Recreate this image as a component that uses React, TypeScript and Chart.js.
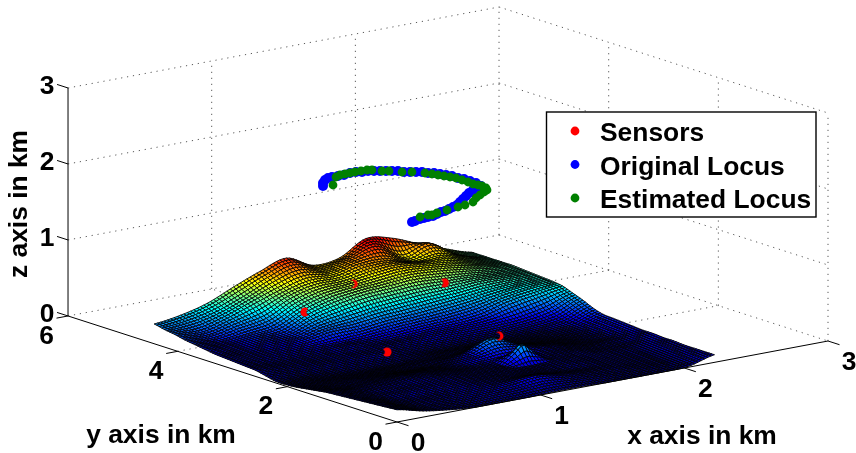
import React, { useEffect, useRef } from "react";
import { Chart, registerables } from "chart.js";

Chart.register(...registerables);

const xTicks = [0, 1, 2, 3];
const yTicks = [0, 2, 4, 6];
const zTicks = [0, 1, 2, 3];
const axisTitles = ["x axis in km", "y axis in km", "z axis in km"];
const seriesLabels = ["Sensors", "Original Locus", "Estimated Locus"];

// Terrain heights (km) on a coarse grid: rows run along y (front to back),
// columns along x. The painter refines each cell visually to give the fine mesh look of the original.
const surfaceXMax = 2.21;
const surfaceYMax = 4.43;
const surfaceZ = [
  [0.16, 0.08, 0.03, 0.0, 0.0, 0.0, 0.01, 0.01, 0.0, 0.0, 0.0, 0.01, 0.1],
  [0.15, 0.08, 0.05, 0.03, 0.04, 0.05, 0.07, 0.05, 0.03, 0.02, 0.02, 0.03, 0.1],
  [0.14, 0.08, 0.07, 0.06, 0.07, 0.09, 0.13, 0.08, 0.05, 0.04, 0.03, 0.04, 0.1],
  [0.13, 0.08, 0.08, 0.08, 0.09, 0.09, 0.09, 0.07, 0.05, 0.05, 0.04, 0.05, 0.1],
  [0.12, 0.08, 0.1, 0.1, 0.1, 0.09, 0.08, 0.07, 0.07, 0.06, 0.05, 0.06, 0.11],
  [0.11, 0.08, 0.1, 0.11, 0.11, 0.09, 0.08, 0.07, 0.08, 0.07, 0.06, 0.07, 0.11],
  [0.1, 0.08, 0.1, 0.12, 0.11, 0.09, 0.08, 0.07, 0.08, 0.08, 0.06, 0.07, 0.12],
  [0.09, 0.07, 0.09, 0.11, 0.1, 0.08, 0.09, 0.09, 0.09, 0.08, 0.06, 0.07, 0.12],
  [0.07, 0.05, 0.07, 0.08, 0.07, 0.07, 0.12, 0.18, 0.12, 0.08, 0.05, 0.06, 0.13],
  [0.05, 0.04, 0.05, 0.05, 0.04, 0.05, 0.12, 0.26, 0.12, 0.06, 0.04, 0.06, 0.14],
  [0.03, 0.03, 0.03, 0.03, 0.03, 0.04, 0.06, 0.1, 0.06, 0.04, 0.03, 0.06, 0.15],
  [0.02, 0.02, 0.02, 0.02, 0.02, 0.03, 0.04, 0.05, 0.04, 0.03, 0.03, 0.06, 0.16],
  [0.02, 0.02, 0.03, 0.04, 0.04, 0.04, 0.03, 0.03, 0.03, 0.03, 0.04, 0.08, 0.2],
  [0.05, 0.04, 0.05, 0.06, 0.07, 0.06, 0.05, 0.05, 0.05, 0.05, 0.07, 0.12, 0.26],
  [0.08, 0.06, 0.06, 0.07, 0.08, 0.08, 0.08, 0.09, 0.09, 0.1, 0.13, 0.2, 0.31],
  [0.09, 0.07, 0.07, 0.08, 0.1, 0.09, 0.1, 0.12, 0.13, 0.16, 0.25, 0.31, 0.36],
  [0.1, 0.09, 0.09, 0.1, 0.11, 0.13, 0.16, 0.18, 0.2, 0.24, 0.31, 0.36, 0.38],
  [0.11, 0.1, 0.11, 0.13, 0.19, 0.2, 0.24, 0.26, 0.29, 0.32, 0.36, 0.38, 0.39],
  [0.12, 0.11, 0.13, 0.15, 0.24, 0.29, 0.34, 0.37, 0.39, 0.4, 0.42, 0.41, 0.4],
  [0.14, 0.12, 0.15, 0.17, 0.31, 0.4, 0.46, 0.48, 0.5, 0.48, 0.46, 0.43, 0.41],
  [0.16, 0.13, 0.17, 0.22, 0.38, 0.48, 0.52, 0.55, 0.58, 0.56, 0.52, 0.46, 0.42],
  [0.18, 0.16, 0.23, 0.3, 0.46, 0.55, 0.56, 0.62, 0.64, 0.6, 0.57, 0.48, 0.42],
  [0.21, 0.2, 0.29, 0.41, 0.53, 0.62, 0.6, 0.68, 0.68, 0.58, 0.62, 0.5, 0.42],
  [0.23, 0.26, 0.34, 0.47, 0.62, 0.72, 0.62, 0.7, 0.8, 0.62, 0.71, 0.5, 0.42],
  [0.26, 0.31, 0.4, 0.55, 0.69, 0.8, 0.64, 0.67, 0.86, 0.8, 0.66, 0.53, 0.42],
];

// The sharp narrow peak near x = 1.30, y = 1.13 is finer than that grid: extra heights on a small patch.
const spikeCentre = [1.3, 1.13];
const spikeStep = [0.07, 0.1];
const spikeZ = [
  [0, 0, 0, 0, 0],
  [0, 0.07, 0.12, 0.07, 0],
  [0.01, 0.12, 0.27, 0.12, 0.01],
  [0, 0.08, 0.12, 0.08, 0],
  [0, 0, 0.01, 0, 0],
];

const sensorX = [0.63, 1.07, 0.755, 1.59, 1.31];
const sensorY = [3.33, 3.6, 2.16, 3.3, 1.57];
const sensorZ = [0.45, 0.6, 0.15, 0.5, 0.3];

// Locus, in the chart's plane coordinates.
const originalLocusH = [412, 415, 420, 424, 428, 433, 437, 441, 445, 449, 453, 457, 460, 463, 466, 469, 473, 477, 481, 476, 470, 464, 458, 452, 446, 440, 434, 428, 422, 416, 410, 404, 398, 392, 386, 380, 374, 368, 362, 356, 350, 344, 338, 332, 328, 325, 323, 323];
const originalLocusV = [222, 221, 219, 218, 217, 216, 214, 212, 211, 209, 207, 205, 202, 199, 196, 193, 190, 187, 186, 183, 181, 179, 178, 176, 175, 174, 173, 173, 172, 172, 172, 172, 171, 171, 171, 171, 171, 171, 172, 172, 173, 175, 176, 177, 178, 180, 183, 186];
const estimatedLocusH = [420, 428, 432, 437, 447, 458, 465, 473, 476, 480, 484, 487, 486, 482, 478, 473, 468, 462, 456, 450, 444, 438, 432, 425, 412, 402, 389, 382, 372, 367, 361, 355, 350, 345, 340, 336, 333];
const estimatedLocusV = [217, 215, 215, 213, 210, 207, 205, 202, 198, 195, 192, 190, 188, 186, 185, 184, 182, 180, 178, 177, 176, 175, 174, 173, 172, 172, 171, 171, 170, 170, 171, 172, 173, 174, 175, 177, 185];

const X0 = 397, Y0 = 422;
const px = (x: number, y: number) => X0 + 143.67 * x - 54.83 * y;
const py = (x: number, y: number, z: number) => Y0 - 27 * x - 17.67 * y - 76 * z;
const P = (x: number, y: number, z: number) => ({ x: px(x, y), y: py(x, y, z) });
const GAP = { x: NaN, y: NaN };

function jet(t: number) {
  const v = Math.max(0, Math.min(1, t));
  const c = (k: number) => Math.round(255 * Math.max(0, Math.min(1, 1.5 - Math.abs(4 * v - k))));
  return `rgb(${c(3)},${c(2)},${c(1)})`;
}

function catmull(a: number, b: number, c: number, d: number, t: number) {
  return 0.5 * (2 * b + (c - a) * t + (2 * a - 5 * b + 4 * c - d) * t * t + (3 * b - a - 3 * c + d) * t * t * t);
}

function spikeAt(x: number, y: number) {
  const u = (x - spikeCentre[0]) / spikeStep[0] + 2, v = (y - spikeCentre[1]) / spikeStep[1] + 2;
  if (u < 0 || v < 0 || u >= 4 || v >= 4) return 0;
  const i = Math.floor(u), j = Math.floor(v), tu = u - i, tv = v - j;
  return (
    spikeZ[j][i] * (1 - tu) * (1 - tv) + spikeZ[j][i + 1] * tu * (1 - tv) +
    spikeZ[j + 1][i] * (1 - tu) * tv + spikeZ[j + 1][i + 1] * tu * tv
  );
}

function heightAt(u: number, v: number) {
  const rows = surfaceZ.length, cols = surfaceZ[0].length;
  const i = Math.min(cols - 2, Math.floor(u)), j = Math.min(rows - 2, Math.floor(v));
  const tu = u - i, tv = v - j;
  const at = (r: number, c: number) => surfaceZ[Math.max(0, Math.min(rows - 1, r))][Math.max(0, Math.min(cols - 1, c))];
  const col = [-1, 0, 1, 2].map((dr) => catmull(at(j + dr, i - 1), at(j + dr, i), at(j + dr, i + 1), at(j + dr, i + 2), tu));
  return Math.max(0, catmull(col[0], col[1], col[2], col[3], tv));
}

function crescent(r: number, cutDx: number, cutR: number) {
  const c = document.createElement("canvas");
  c.width = 14; c.height = 14;
  const g = c.getContext("2d")!;
  g.fillStyle = "#ff0000";
  g.beginPath(); g.arc(7, 7, r, 0, Math.PI * 2); g.fill();
  g.globalCompositeOperation = "destination-out";
  g.beginPath(); g.arc(7 + cutDx, 7, cutR, 0, Math.PI * 2); g.fill();
  return c;
}

const FONT = 'bold 26.4px "Liberation Sans", Arial, sans-serif';

const scenePlugin = {
  id: "scene",
  afterDatasetDraw(chart: any, args: any) {
    if (args.index !== 0) return;
    const { ctx, scales } = chart;
    const sx = scales.x, sy = scales.y;
    const SUBU = 8, SUBV = 4;
    const cols = surfaceZ[0].length, rows = surfaceZ.length;
    const nu = (cols - 1) * SUBU, nv = (rows - 1) * SUBV;
    const pts: { x: number; y: number; z: number }[][] = [];
    for (let a = 0; a <= nu; a++) {
      const line = [];
      for (let b = 0; b <= nv; b++) {
        const gx = (a / nu) * surfaceXMax, gy = (b / nv) * surfaceYMax;
        const z = heightAt(a / SUBU, b / SUBV) + spikeAt(gx, gy);
        const p = P(gx, gy, z);
        line.push({ x: sx.getPixelForValue(p.x), y: sy.getPixelForValue(p.y), z });
      }
      pts.push(line);
    }
    ctx.save();
    ctx.strokeStyle = "#000";
    ctx.lineWidth = 0.85;
    for (let a = nu - 1; a >= 0; a--) {
      for (let b = nv - 1; b >= 0; b--) {
        const p1 = pts[a][b], p2 = pts[a + 1][b], p3 = pts[a + 1][b + 1], p4 = pts[a][b + 1];
        ctx.beginPath();
        ctx.moveTo(p1.x, p1.y); ctx.lineTo(p2.x, p2.y); ctx.lineTo(p3.x, p3.y); ctx.lineTo(p4.x, p4.y);
        ctx.closePath();
        ctx.fillStyle = jet((p1.z + p2.z + p3.z + p4.z) / 4 / 0.95);
        ctx.fill();
        ctx.stroke();
      }
    }
    ctx.restore();
  },
  afterDatasetsDraw(chart: any) {
    const { ctx, scales } = chart;
    const sx = scales.x, sy = scales.y;
    const text = (s: string, x: number, y: number, align: CanvasTextAlign = "center", base: CanvasTextBaseline = "middle") => {
      ctx.textAlign = align; ctx.textBaseline = base;
      ctx.fillText(s, sx.getPixelForValue(x), sy.getPixelForValue(y));
    };
    ctx.save();
    ctx.font = FONT;
    ctx.fillStyle = "#000";
    xTicks.forEach((t) => { const p = P(t, 0, 0); text(String(t), p.x + 21, p.y + 21.5); });
    yTicks.forEach((t) => { const p = P(0, t, 0); text(String(t), p.x - 21.5, p.y + 20.5); });
    zTicks.forEach((t) => { const p = P(0, 6, t); text(String(t), p.x - 21, p.y - 1.5); });
    text(axisTitles[0], 702, 444, "center", "alphabetic");
    text(axisTitles[1], 161, 443, "center", "alphabetic");
    ctx.save();
    ctx.translate(sx.getPixelForValue(27), sy.getPixelForValue(204));
    ctx.rotate(-Math.PI / 2);
    ctx.textAlign = "center"; ctx.textBaseline = "alphabetic";
    ctx.fillText(axisTitles[2], 0, 0);
    ctx.restore();

    // legend
    const L = sx.getPixelForValue(546.5), T = sy.getPixelForValue(112), R = sx.getPixelForValue(816), B = sy.getPixelForValue(217);
    ctx.fillStyle = "#fff";
    ctx.fillRect(L, T, R - L, B - T);
    ctx.strokeStyle = "#000";
    ctx.lineWidth = 1.4;
    ctx.strokeRect(L, T, R - L, B - T);
    const colors = ["#ff0000", "#0000ff", "#008000"];
    const baselines = [141, 174.5, 208];
    const markers = [131, 164.5, 198];
    seriesLabels.forEach((s, i) => {
      ctx.fillStyle = colors[i];
      ctx.beginPath();
      ctx.arc(sx.getPixelForValue(575), sy.getPixelForValue(markers[i]), 4.4, 0, Math.PI * 2);
      ctx.fill();
      ctx.fillStyle = "#000";
      text(s, 600, baselines[i], "left", "alphabetic");
    });
    ctx.restore();
  },
};

export default function App() {
  const ref = useRef<HTMLCanvasElement>(null);
  useEffect(() => {
    const grid: any[] = [];
    const seg = (a: any, b: any) => grid.push(a, b, GAP);
    zTicks.slice(1).forEach((z) => {
      seg(P(0, 6, z), P(3, 6, z));
      seg(P(3, 6, z), P(3, 0, z));
    });
    seg(P(0, 6, 0), P(3, 6, 0));
    seg(P(3, 6, 0), P(3, 0, 0));
    xTicks.slice(1).forEach((x) => seg(P(x, 6, 0), P(x, 6, 3)));
    yTicks.slice(0, 3).forEach((y) => seg(P(3, y, 0), P(3, y, 3)));
    xTicks.slice(1, 3).forEach((x) => seg(P(x, 0, 0), P(x, 6, 0)));
    yTicks.slice(1, 3).forEach((y) => seg(P(0, y, 0), P(3, y, 0)));

    const axes: any[] = [];
    const aseg = (a: any, b: any) => axes.push(a, b, GAP);
    aseg(P(0, 0, 0), P(3, 0, 0));
    aseg(P(0, 0, 0), P(0, 6, 0));
    aseg(P(0, 6, 0), P(0, 6, 3));
    xTicks.forEach((t) => aseg(P(t, 0, 0), P(t, -0.21, 0)));
    yTicks.forEach((t) => aseg(P(0, t, 0), P(-0.08, t, 0)));
    zTicks.forEach((t) => aseg(P(0, 6, t), P(0, 6.2, t)));

    const sensorStyles = [crescent(4.5, 5.8, 4.4), crescent(4.4, -2.6, 3.8), crescent(4.5, -4.8, 2.6), crescent(4.5, -5.8, 4.4), crescent(4.4, -2.6, 3.6)];

    const chart = new Chart(ref.current!, {
      type: "scatter",
      data: {
        datasets: [
          { label: "grid", data: grid, showLine: true, pointRadius: 0, borderColor: "rgba(60,60,60,0.85)", borderWidth: 1, borderDash: [1.2, 4.8], order: 6 },
          { label: "axes", data: axes, showLine: true, pointRadius: 0, borderColor: "#000", borderWidth: 1, order: 5 },
          {
            label: seriesLabels[0],
            data: sensorX.map((x, i) => P(x, sensorY[i], sensorZ[i])),
            pointStyle: sensorStyles as any,
            pointRadius: 5,
            order: 3,
          },
          {
            label: seriesLabels[1],
            data: originalLocusH.map((h, i) => ({ x: h, y: originalLocusV[i] })),
            pointRadius: 5, pointBackgroundColor: "#0000ff", pointBorderWidth: 0, order: 2,
          },
          {
            label: seriesLabels[2],
            data: estimatedLocusH.map((h, i) => ({ x: h, y: estimatedLocusV[i] })),
            pointRadius: 4.4, pointBackgroundColor: "#008000", pointBorderWidth: 0, order: 1,
          },
        ],
      },
      options: {
        responsive: false,
        animation: false,
        events: [],
        layout: { padding: 0, autoPadding: false },
        plugins: { legend: { display: false }, tooltip: { enabled: false } },
        scales: {
          x: { type: "linear", min: 0, max: 856, display: false },
          y: { type: "linear", min: 0, max: 453, reverse: true, display: false },
        },
      },
      plugins: [scenePlugin],
    } as any);
    return () => chart.destroy();
  }, []);
  return (
    <div style={{ position: "fixed", left: 0, top: 0, width: 856, height: 453, background: "#fff" }}>
      <canvas ref={ref} width={856} height={453} style={{ display: "block" }} />
    </div>
  );
}
